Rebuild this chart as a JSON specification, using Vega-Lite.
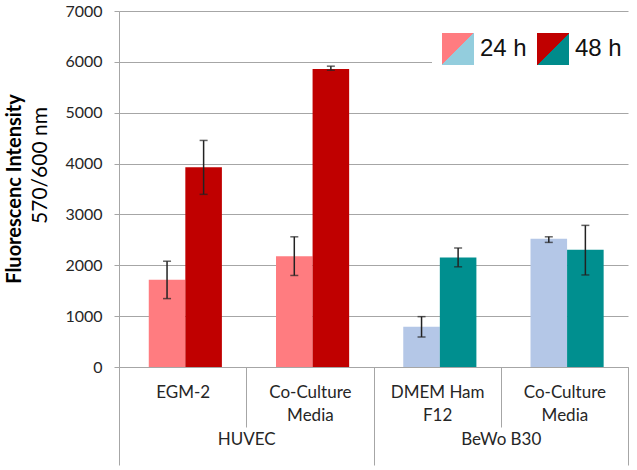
{
  "$schema": "https://vega.github.io/schema/vega-lite/v6.json",
  "width": 509,
  "height": 356,
  "autosize": "none",
  "padding": {"left": 119, "top": 11, "right": 9, "bottom": 103},
  "background": "white",
  "config": {
    "view": {"stroke": null},
    "font": "Lato",
    "axis": {"labelColor": "#262626", "labelFont": "Lato", "titleFont": "Lato", "titleColor": "#000000"}
  },
  "title": {
    "text": "Fluorescenc Intensity",
    "orient": "left",
    "anchor": "middle",
    "frame": "group",
    "font": "Lato",
    "fontSize": 20,
    "fontWeight": "bold",
    "color": "#000000",
    "offset": 4
  },
  "data": {
    "values": [
      {"group": "HUVEC", "cat": "HUVEC|EGM-2", "time": "24 h", "series": "HUVEC 24 h", "value": 1715, "lo": 1345, "hi": 2080},
      {"group": "HUVEC", "cat": "HUVEC|EGM-2", "time": "48 h", "series": "HUVEC 48 h", "value": 3930, "lo": 3395, "hi": 4455},
      {"group": "HUVEC", "cat": "HUVEC|Co-Culture|Media", "time": "24 h", "series": "HUVEC 24 h", "value": 2180, "lo": 1800, "hi": 2560},
      {"group": "HUVEC", "cat": "HUVEC|Co-Culture|Media", "time": "48 h", "series": "HUVEC 48 h", "value": 5860, "lo": 5835, "hi": 5915},
      {"group": "BeWo B30", "cat": "BeWo B30|DMEM Ham|F12", "time": "24 h", "series": "BeWo 24 h", "value": 792, "lo": 590, "hi": 990},
      {"group": "BeWo B30", "cat": "BeWo B30|DMEM Ham|F12", "time": "48 h", "series": "BeWo 48 h", "value": 2155, "lo": 1970, "hi": 2340},
      {"group": "BeWo B30", "cat": "BeWo B30|Co-Culture|Media", "time": "24 h", "series": "BeWo 24 h", "value": 2520, "lo": 2450, "hi": 2560},
      {"group": "BeWo B30", "cat": "BeWo B30|Co-Culture|Media", "time": "48 h", "series": "BeWo 48 h", "value": 2305, "lo": 1810, "hi": 2785}
    ]
  },
  "layer": [
    {
      "layer": [
        {
          "mark": {"type": "bar"},
          "encoding": {
            "x": {
              "field": "cat",
              "type": "nominal",
              "scale": {"domain": ["HUVEC|EGM-2", "HUVEC|Co-Culture|Media", "BeWo B30|DMEM Ham|F12", "BeWo B30|Co-Culture|Media"], "paddingInner": 0, "paddingOuter": 0},
              "axis": {
                "orient": "bottom",
                "title": null,
                "labelExpr": "slice(split(datum.value, '|'), 1)",
                "labelAngle": 0,
                "labelFontSize": 17,
                "labelLineHeight": 23,
                "labelBaseline": "top",
                "labelPadding": -43,
                "tickBand": "extent",
                "tickSize": 60,
                "tickColor": "#A6A6A6",
                "domainColor": "#A6A6A6",
                "grid": false
              }
            },
            "xOffset": {"field": "time", "type": "nominal", "scale": {"domain": ["24 h", "48 h"], "paddingInner": 0, "paddingOuter": 0.74, "align": 0.55}},
            "y": {
              "field": "value",
              "type": "quantitative",
              "scale": {"domain": [0, 7000], "nice": false},
              "axis": {
                "values": [0, 1000, 2000, 3000, 4000, 5000, 6000, 7000],
                "format": "d",
                "title": "570/600 nm",
                "titleFontWeight": "normal",
                "titleFontSize": 21,
                "titleX": -79,
                "titleY": 154,
                "titleAngle": -90,
                "titleAlign": "center",
                "titleBaseline": "middle",
                "labelFontSize": 16,
                "labelPadding": 12,
                "tickSize": 5,
                "grid": true,
                "gridColor": "#A6A6A6",
                "domainColor": "#A6A6A6",
                "tickColor": "#A6A6A6"
              }
            },
            "color": {
              "field": "series",
              "type": "nominal",
              "scale": {"domain": ["HUVEC 24 h", "HUVEC 48 h", "BeWo 24 h", "BeWo 48 h"], "range": ["#FF7C80", "#C00000", "#B4C7E7", "#008F8F"]},
              "legend": null
            }
          }
        },
        {
          "mark": {"type": "rule", "color": "#222222", "strokeWidth": 1.5},
          "encoding": {
            "x": {"field": "cat", "type": "nominal"},
            "xOffset": {"field": "time", "type": "nominal"},
            "y": {"field": "lo", "type": "quantitative", "scale": {"domain": [0, 7000], "nice": false}},
            "y2": {"field": "hi"}
          }
        },
        {
          "mark": {"type": "tick", "color": "#222222", "size": 8, "thickness": 1.5},
          "encoding": {
            "x": {"field": "cat", "type": "nominal"},
            "xOffset": {"field": "time", "type": "nominal"},
            "y": {"field": "lo", "type": "quantitative", "scale": {"domain": [0, 7000], "nice": false}}
          }
        },
        {
          "mark": {"type": "tick", "color": "#222222", "size": 8, "thickness": 1.5},
          "encoding": {
            "x": {"field": "cat", "type": "nominal"},
            "xOffset": {"field": "time", "type": "nominal"},
            "y": {"field": "hi", "type": "quantitative", "scale": {"domain": [0, 7000], "nice": false}}
          }
        }
      ]
    },
    {
      "mark": {"type": "point", "filled": true, "opacity": 0},
      "encoding": {
        "x": {
          "field": "group",
          "type": "nominal",
          "scale": {"type": "band", "domain": ["HUVEC", "BeWo B30"], "paddingInner": 0, "paddingOuter": 0},
          "axis": {
            "orient": "bottom",
            "title": null,
            "labelAngle": 0,
            "labelFontSize": 17,
            "labelBaseline": "top",
            "tickBand": "extent",
            "tickSize": 98,
            "tickColor": "#A6A6A6",
            "labelPadding": -34,
            "domain": false,
            "grid": false
          }
        },
        "y": {"field": "value", "type": "quantitative", "scale": {"domain": [0, 7000], "nice": false}},
        "fill": {
          "field": "time",
          "type": "nominal",
          "scale": {
            "domain": ["24 h", "48 h"],
            "range": [
              {"expr": "{gradient: 'linear', x1: 0, y1: 0, x2: 1, y2: 1, stops: [{offset: 0.5, color: '#FF7C80'}, {offset: 0.5, color: '#93CDDD'}]}"},
              {"expr": "{gradient: 'linear', x1: 0, y1: 0, x2: 1, y2: 1, stops: [{offset: 0.5, color: '#C00000'}, {offset: 0.5, color: '#008B8B'}]}"}
            ]
          },
          "legend": {
            "title": null,
            "orient": "none",
            "legendX": 313,
            "legendY": 12,
            "direction": "horizontal",
            "padding": 10,
            "fillColor": "white",
            "symbolType": "square",
            "symbolSize": 1024,
            "symbolStrokeWidth": 0,
            "symbolOpacity": 1,
            "labelFont": "Liberation Sans",
            "labelFontSize": 24,
            "labelColor": "#111111",
            "labelOffset": 6,
            "columnPadding": 10
          }
        }
      }
    }
  ],
  "resolve": {"scale": {"x": "independent"}, "axis": {"x": "independent"}}
}
